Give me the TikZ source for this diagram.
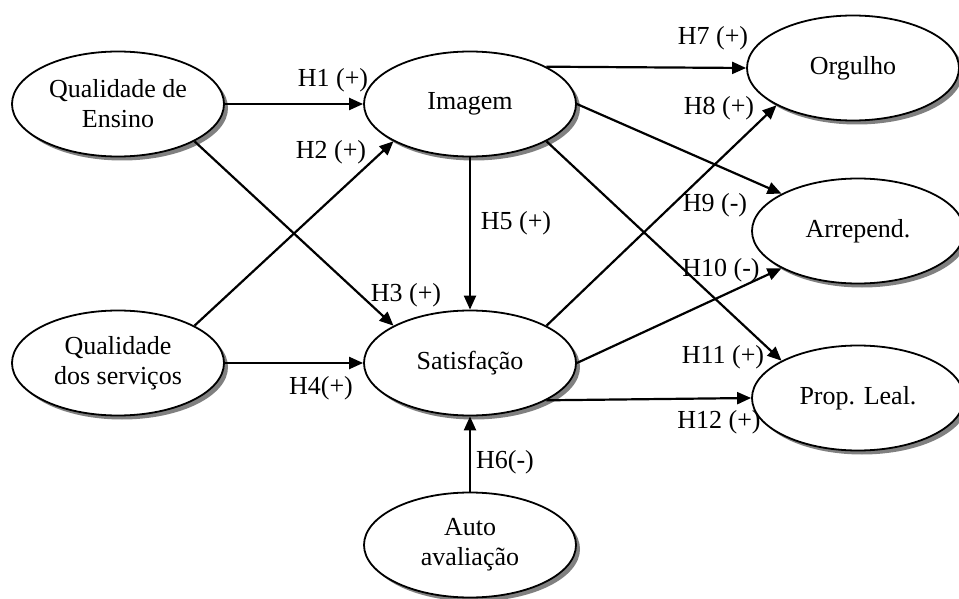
\documentclass[tikz,border=0pt]{standalone}
\usepackage{fontspec}
\setmainfont{Liberation Serif}
\usetikzlibrary{arrows.meta}
\usetikzlibrary{shapes}
\usetikzlibrary{shadows}

\begin{document}
\begin{tikzpicture}[x = 1pt, y = -1pt]
	\tikzstyle{latentStyle}=[shape = ellipse, minimum width = 212pt, minimum height = 105pt, inner sep = 0pt, draw, line width = 1.8pt, fill = white, align = center, font = \fontsize{26}{30}\selectfont, drop shadow = {shadow xshift = 4pt, shadow yshift = -4pt, fill = gray, opacity = 1}]
	\tikzstyle{pathStyle}=[line width = 2.2pt, -{Triangle[length = 14pt, width = 12pt]}]
	\tikzstyle{hypStyle}=[inner sep = 0pt, font = \fontsize{26}{30}\selectfont]
	\useasboundingbox (0, 0) rectangle (959, 599);
	% constructs
	\node[latentStyle] (ens) at (118, 104) {Qualidade de\\Ensino};
	\node[latentStyle] (serv) at (118, 363) {Qualidade\\dos serviços};
	\node[latentStyle] (img) at (470, 104) {Imagem};
	\node[latentStyle] (sat) at (470, 363) {Satisfação};
	\node[latentStyle] (auto) at (470, 545) {Auto\\avaliação};
	\node[latentStyle] (org) at (853, 68) {Orgulho};
	\node[latentStyle] (arr) at (858, 231) {Arrepend.};
	\node[latentStyle] (leal) at (858, 398) {Prop. Leal.};
	% paths
	\draw[pathStyle] (ens.east) -- (img.west);
	\draw[pathStyle] (serv.26) -- (img.206);
	\draw[pathStyle] (ens.-26) -- (sat.154);
	\draw[pathStyle] (serv.east) -- (sat.west);
	\draw[pathStyle] (img.south) -- (sat.north);
	\draw[pathStyle] (auto.north) -- (sat.south);
	\draw[pathStyle] (img.26) -- (org.west);
	\draw[pathStyle] (sat.26) -- (org.206);
	\draw[pathStyle] (img.east) -- (arr.154);
	\draw[pathStyle] (sat.east) -- (arr.206);
	\draw[pathStyle] (img.-26) -- (leal.154);
	\draw[pathStyle] (sat.-26) -- (leal.west);
	% hypotheses
	\node[hypStyle] (h1) at (333, 80) {H1 (+)};
	\node[hypStyle] (h2) at (331, 152) {H2 (+)};
	\node[hypStyle] (h3) at (406, 295) {H3 (+)};
	\node[hypStyle] (h4) at (321, 388) {H4(+)};
	\node[hypStyle] (h5) at (516, 223) {H5 (+)};
	\node[hypStyle] (h6) at (505, 462) {H6(-)};
	\node[hypStyle] (h7) at (713, 38) {H7 (+)};
	\node[hypStyle] (h8) at (719, 108) {H8 (+)};
	\node[hypStyle] (h9) at (715, 205) {H9 (-)};
	\node[hypStyle] (h10) at (721, 270) {H10 (-)};
	\node[hypStyle] (h11) at (723, 357) {H11 (+)};
	\node[hypStyle] (h12) at (719, 422) {H12 (+)};
\end{tikzpicture}
\end{document}
